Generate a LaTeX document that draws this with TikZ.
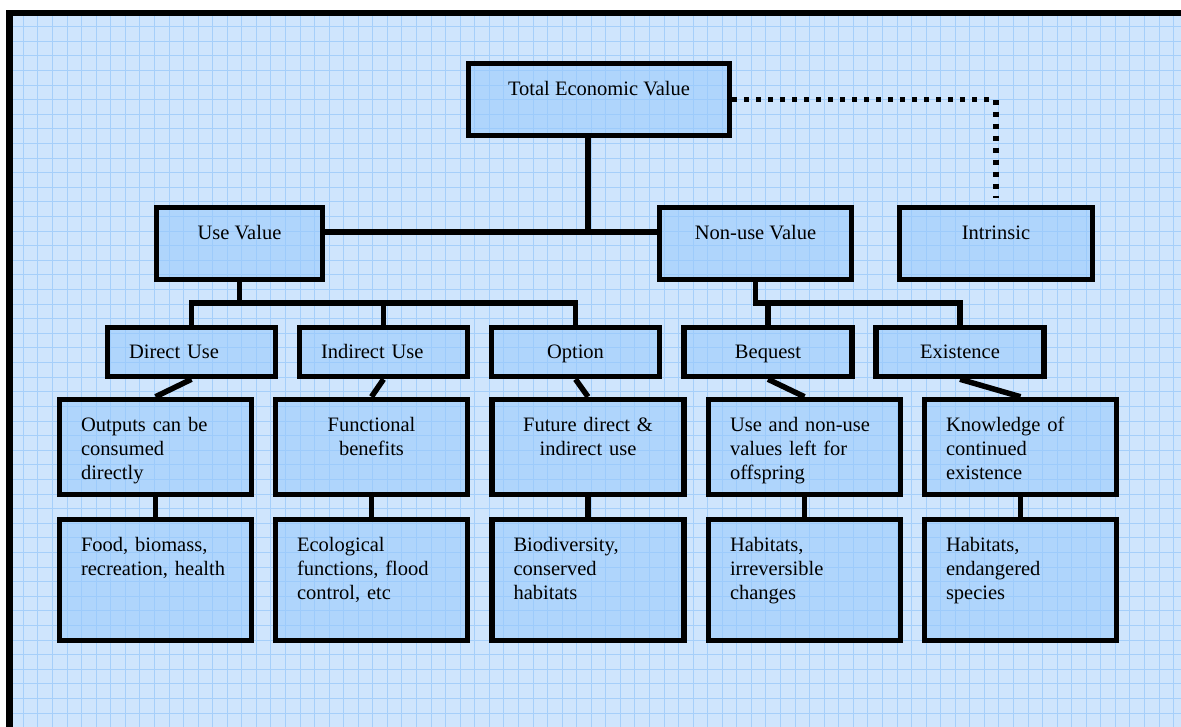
\documentclass[tikz,border=0pt]{standalone}
\usepackage{fontspec}
\setmainfont{Liberation Serif}
\definecolor{paper}{RGB}{207,229,253}
\definecolor{gridblue}{RGB}{166,207,250}
\definecolor{boxblue}{RGB}{150,200,252}

\begin{document}
\begin{tikzpicture}[x=1pt, y=-1pt,
    base/.style={draw, line width=5.5pt, fill=boxblue, fill opacity=0.55, text opacity=1, font=\fontsize{20.5}{24}\selectfont},
    headbox/.style={base, minimum height=72pt, inner sep=0pt, text height=14pt, text depth=22pt},
    kindbox/.style={base, minimum height=49pt, text width=125pt, inner xsep=21.5pt, inner ysep=0pt, text height=14pt, text depth=0pt},
    descbox/.style={base, text width=149pt, inner xsep=21.5pt, inner ysep=0pt, text height=31.5pt, text depth=63.5pt, align=left},
    examplebox/.style={descbox, text depth=89.5pt},
    link/.style={line width=5.5pt},
    gridline/.style={gridblue, line width=0.8pt}
]
\useasboundingbox (0,0) rectangle (1181,727);
\clip (0,0) rectangle (1181,727);

% graph paper
\fill[white] (0,0) rectangle (1181,727);
\fill[paper] (12,15) rectangle (1181,727);
\foreach \k in {0,...,79} \draw[gridline] ({23.3+14.56*\k},16) -- ({23.3+14.56*\k},727);
\foreach \k in {0,...,48} \draw[gridline] (13,{26.7+14.6*\k}) -- (1181,{26.7+14.6*\k});
\draw[line width=6.5pt] (9.3,13) rectangle (1200,760);

% top levels
\node[headbox, minimum width=261pt] (tev) at (599, 99.5) {Total Economic Value};
\node[headbox, minimum width=166pt] (usev) at (239.5, 243.5) {Use Value};
\node[headbox, minimum width=192pt] (nonuse) at (755.5, 243.5) {Non-use Value};
\node[headbox, minimum width=193pt] (intrinsic) at (996, 243.5) {Intrinsic};

% kinds of value
\node[kindbox, align=left] (direct) at (191.5, 352) {Direct Use};
\node[kindbox, align=left] (indirect) at (383.5, 352) {Indirect Use};
\node[kindbox, align=center] (option) at (575.5, 352) {Option};
\node[kindbox, align=center] (bequest) at (768, 352) {Bequest};
\node[kindbox, align=center] (existence) at (960, 352) {Existence};

% what they mean
\node[descbox] (outputs) at (155.5, 447) {Outputs can be\\consumed\\directly};
\node[descbox, align=center] (functional) at (371.5, 447) {Functional\\benefits};
\node[descbox, align=center] (future) at (588, 447) {Future direct \&\\indirect use};
\node[descbox] (offspring) at (804.5, 447) {Use and non-use\\values left for\\offspring};
\node[descbox] (knowledge) at (1020.5, 447) {Knowledge of\\continued\\existence};

% examples
\node[examplebox] (food) at (155.5, 580) {Food, biomass,\\recreation, health};
\node[examplebox] (ecol) at (371.5, 580) {Ecological\\functions, flood\\control, etc};
\node[examplebox] (biodiv) at (588, 580) {Biodiversity,\\conserved\\habitats};
\node[examplebox] (habitats) at (804.5, 580) {Habitats,\\irreversible\\changes};
\node[examplebox] (species) at (1020.5, 580) {Habitats,\\endangered\\species};

% connectors
\coordinate (hub) at (588, 232);
\coordinate (bus) at (0, 303);
\draw[link] (usev.east |- hub) -- (nonuse.west |- hub);
\draw[link] (tev.south -| hub) -- (hub);
\draw[link, dash pattern=on 5pt off 7pt] (tev.east) -| ([yshift=7pt]intrinsic.north);

\draw[link] (usev.south) -- (usev.south |- bus);
\draw[link] (direct.north) |- (option.north |- bus) -- (option.north);
\draw[link] (indirect.north) -- (indirect.north |- bus);
\draw[link] (nonuse.south) |- (existence.north |- bus) -- (existence.north);
\draw[link] (bequest.north) -- (bequest.north |- bus);

\foreach \a/\b in {direct/outputs, indirect/functional, option/future, bequest/offspring, existence/knowledge}
  \draw[link] (\a.south) -- (\b.north);
\foreach \a/\b in {outputs/food, functional/ecol, future/biodiv, offspring/habitats, knowledge/species}
  \draw[link] (\a.south) -- (\b.north);
\end{tikzpicture}
\end{document}
